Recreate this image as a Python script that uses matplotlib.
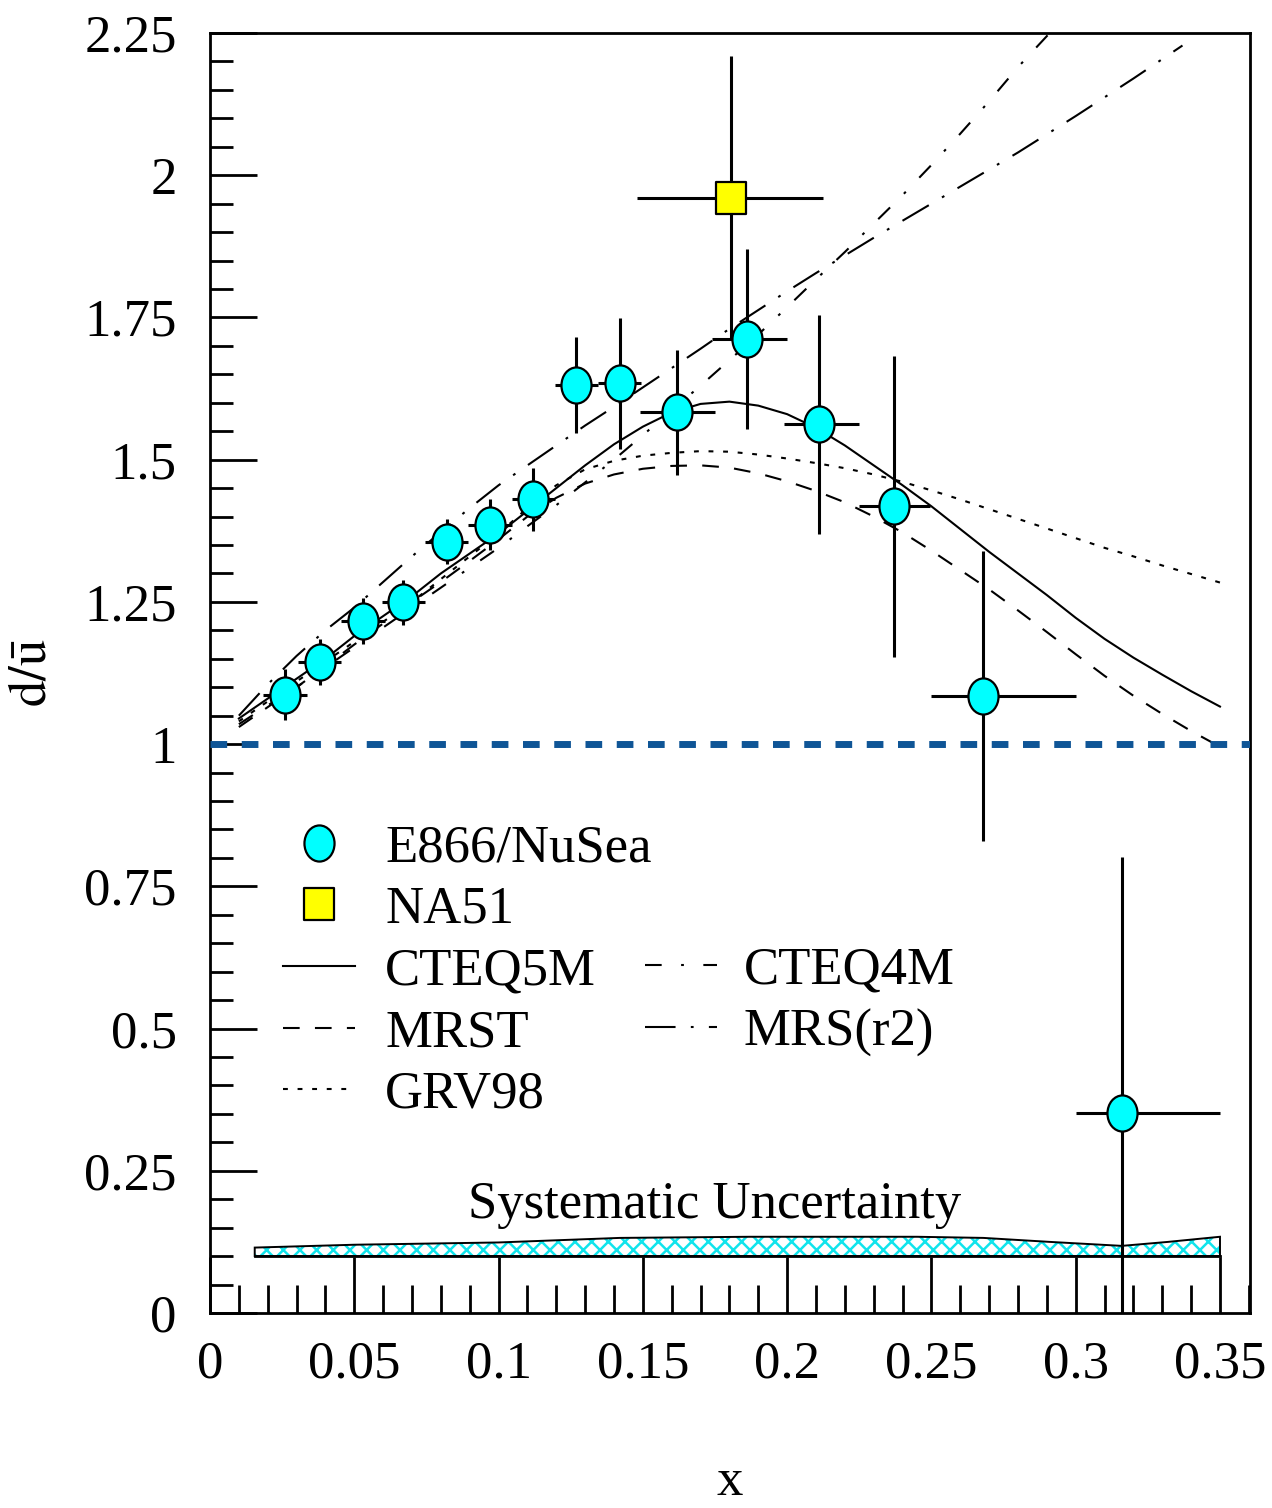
import numpy as np
import matplotlib
matplotlib.use('Agg')
import matplotlib.pyplot as plt
from matplotlib.path import Path
from matplotlib.ticker import MultipleLocator, FuncFormatter

plt.rcParams['font.family'] = ['Liberation Serif', 'DejaVu Serif']
plt.rcParams['mathtext.fontset'] = 'stix'
plt.rcParams['lines.scale_dashes'] = False
plt.rcParams['hatch.linewidth'] = 1.8

# E866/NuSea dbar/ubar points, x bins as low/high edges
x_e866 = [0.026, 0.038, 0.053, 0.067, 0.082, 0.097, 0.112, 0.127, 0.142,
          0.162, 0.186, 0.211, 0.237, 0.268, 0.316]
y_e866 = [1.087, 1.144, 1.216, 1.249, 1.356, 1.386, 1.430, 1.631, 1.634,
          1.583, 1.712, 1.562, 1.418, 1.084, 0.352]
yerr_e866 = [0.045, 0.04, 0.04, 0.04, 0.04, 0.045, 0.056, 0.085, 0.115,
             0.11, 0.158, 0.193, 0.265, 0.255, 0.45]
xlo_e866 = [0.0185, 0.0305, 0.0455, 0.0595, 0.0745, 0.0895, 0.1045, 0.1195, 0.1345,
            0.149, 0.174, 0.199, 0.225, 0.25, 0.30]
xhi_e866 = [0.0335, 0.0455, 0.0605, 0.0745, 0.0895, 0.1045, 0.1195, 0.1345, 0.1495,
            0.175, 0.20, 0.225, 0.2495, 0.30, 0.35]

# NA51
x_na51 = [0.1805]
y_na51 = [1.96]
yerr_na51 = [0.25]
xlo_na51 = [0.148]
xhi_na51 = [0.2125]

# parametrisations
x_c5 = [0.01, 0.02, 0.03, 0.04, 0.05, 0.06, 0.07, 0.08, 0.09, 0.10, 0.11, 0.12,
        0.13, 0.14, 0.15, 0.16, 0.17, 0.18, 0.19, 0.20, 0.21, 0.22, 0.23, 0.24,
        0.25, 0.26, 0.27, 0.28, 0.29, 0.30, 0.31, 0.32, 0.33, 0.34, 0.35]
y_c5 = [1.045, 1.08, 1.115, 1.15, 1.19, 1.225, 1.26, 1.30, 1.335, 1.37, 1.41, 1.45,
        1.49, 1.527, 1.558, 1.583, 1.598, 1.602, 1.595, 1.58, 1.556, 1.525, 1.49, 1.455,
        1.418, 1.378, 1.338, 1.30, 1.262, 1.222, 1.185, 1.152, 1.122, 1.093, 1.066]

x_mrst = [0.01, 0.02, 0.03, 0.04, 0.05, 0.06, 0.07, 0.08, 0.09, 0.10, 0.11, 0.12,
          0.13, 0.14, 0.15, 0.16, 0.17, 0.18, 0.19, 0.20, 0.21, 0.22, 0.23, 0.24,
          0.25, 0.26, 0.27, 0.28, 0.29, 0.30, 0.31, 0.32, 0.33, 0.34, 0.353]
y_mrst = [1.03, 1.065, 1.10, 1.137, 1.175, 1.212, 1.25, 1.285, 1.322, 1.36, 1.40, 1.433,
          1.458, 1.474, 1.484, 1.489, 1.49, 1.486, 1.476, 1.462, 1.445, 1.425, 1.40, 1.372,
          1.34, 1.306, 1.272, 1.235, 1.197, 1.158, 1.12, 1.085, 1.053, 1.023, 0.987]

x_grv = [0.01, 0.02, 0.03, 0.04, 0.05, 0.06, 0.07, 0.08, 0.09, 0.10, 0.11, 0.12,
         0.13, 0.14, 0.15, 0.16, 0.17, 0.18, 0.19, 0.20, 0.21, 0.22, 0.23, 0.24,
         0.25, 0.26, 0.27, 0.28, 0.29, 0.30, 0.31, 0.32, 0.33, 0.34, 0.35]
y_grv = [1.04, 1.075, 1.11, 1.145, 1.18, 1.215, 1.25, 1.29, 1.33, 1.37, 1.415, 1.455,
         1.483, 1.498, 1.507, 1.512, 1.515, 1.514, 1.509, 1.502, 1.494, 1.485, 1.474, 1.461,
         1.446, 1.43, 1.413, 1.396, 1.379, 1.362, 1.345, 1.33, 1.314, 1.299, 1.284]

x_c4 = [0.01, 0.02, 0.03, 0.04, 0.05, 0.06, 0.07, 0.08, 0.09, 0.10, 0.11, 0.12,
        0.13, 0.14, 0.15, 0.16, 0.17, 0.18, 0.19, 0.20, 0.21, 0.22, 0.23, 0.24,
        0.25, 0.26, 0.27, 0.28, 0.291]
y_c4 = [1.035, 1.068, 1.10, 1.135, 1.17, 1.205, 1.24, 1.275, 1.31, 1.345, 1.383, 1.42,
        1.46, 1.50, 1.543, 1.587, 1.63, 1.675, 1.72, 1.768, 1.817, 1.865, 1.915, 1.965,
        2.018, 2.073, 2.13, 2.19, 2.25]

x_mrs = [0.01, 0.02, 0.03, 0.04, 0.05, 0.06, 0.07, 0.08, 0.09, 0.10, 0.11, 0.12,
         0.13, 0.14, 0.15, 0.16, 0.17, 0.18, 0.19, 0.20, 0.21, 0.22, 0.23, 0.24,
         0.25, 0.26, 0.27, 0.28, 0.29, 0.30, 0.31, 0.32, 0.337]
y_mrs = [1.05, 1.105, 1.155, 1.20, 1.24, 1.285, 1.33, 1.373, 1.415, 1.455, 1.49, 1.525,
         1.56, 1.593, 1.627, 1.661, 1.695, 1.73, 1.763, 1.796, 1.828, 1.859, 1.89, 1.92,
         1.95, 1.98, 2.01, 2.04, 2.072, 2.104, 2.137, 2.17, 2.228]

# systematic uncertainty band
x_sys = [0.0155, 0.05, 0.10, 0.142, 0.187, 0.245, 0.268, 0.291, 0.316, 0.332, 0.35]
top_sys = [0.115, 0.12, 0.124, 0.132, 0.134, 0.134, 0.132, 0.125, 0.118, 0.125, 0.134]
base_sys = [0.10] * len(x_sys)

xerr_e866 = [np.subtract(x_e866, xlo_e866), np.subtract(xhi_e866, x_e866)]
xerr_na51 = [np.subtract(x_na51, xlo_na51), np.subtract(xhi_na51, x_na51)]

oval = Path(Path.unit_circle().vertices * [1.0, 1.2], Path.unit_circle().codes)
box = Path([(-1, -1.07), (1, -1.07), (1, 1.07), (-1, 1.07), (-1, -1.07)],
           [Path.MOVETO, Path.LINETO, Path.LINETO, Path.LINETO, Path.CLOSEPOLY])

fig = plt.figure(figsize=(12.72, 15.08), dpi=100)
ax = fig.add_axes([210 / 1272, 195 / 1508, 1040 / 1272, 1280 / 1508])

lw_curve = 1.5
l_c5, = ax.plot(x_c5, y_c5, color='k', lw=lw_curve, zorder=2)
l_mrst, = ax.plot(x_mrst, y_mrst, color='k', lw=lw_curve, ls=(0, (12, 11)), zorder=2)
l_grv, = ax.plot(x_grv, y_grv, color='k', lw=lw_curve, ls=(0, (3.5, 7)), zorder=2)
l_c4, = ax.plot(x_c4, y_c4, color='k', lw=lw_curve, ls=(0, (12, 14, 2, 14)), zorder=2)
l_mrs, = ax.plot(x_mrs, y_mrs, color='k', lw=lw_curve, ls=(0, (22, 11, 2, 11)), zorder=2)

ax.axhline(1.0, color='#0F5596', lw=5, ls=(0, (12, 10.5)), zorder=6)

ax.errorbar(x_na51, y_na51, yerr=yerr_na51, xerr=xerr_na51, fmt='none',
            ecolor='k', elinewidth=2.2, capsize=0, zorder=3)
h_na51, = ax.plot(x_na51, y_na51, ls='none', marker=box, ms=23, mfc='#FFFF00',
                  mec='k', mew=1.6, zorder=4)
ax.errorbar(x_e866, y_e866, yerr=yerr_e866, xerr=xerr_e866, fmt='none',
            ecolor='k', elinewidth=2.2, capsize=0, zorder=3)
h_e866, = ax.plot(x_e866, y_e866, ls='none', marker=oval, ms=26, mfc='#00FFFF',
                  mec='k', mew=1.6, zorder=5)

# hatched band
ax.fill_between(x_sys, base_sys, top_sys, facecolor='none', edgecolor='#10E4EC',
                lw=0, hatch='xx', zorder=2)
ax.fill(x_sys + x_sys[::-1], top_sys + base_sys[::-1], facecolor='none',
        edgecolor='k', lw=1.4, zorder=2)
ax.plot([x_sys[0], x_sys[-1]], [base_sys[0], base_sys[-1]], color='k', lw=2, zorder=2)
ax.text(0.175, 0.167, 'Systematic Uncertainty', ha='center', va='baseline', fontsize=38)

ax.set_xlim(0, 0.3604)
ax.set_ylim(0, 2.25)
ax.xaxis.set_major_locator(MultipleLocator(0.05))
ax.xaxis.set_minor_locator(MultipleLocator(0.01))
ax.yaxis.set_major_locator(MultipleLocator(0.25))
ax.yaxis.set_minor_locator(MultipleLocator(0.05))
fmt = FuncFormatter(lambda v, p: '%g' % round(v, 4))
ax.xaxis.set_major_formatter(fmt)
ax.yaxis.set_major_formatter(fmt)
ax.tick_params(which='both', direction='in', top=False, right=False, width=2,
               labelsize=38)
ax.tick_params(axis='x', which='major', length=40, pad=20)
ax.tick_params(axis='x', which='minor', length=20)
ax.tick_params(axis='y', which='major', length=34, pad=24)
ax.tick_params(axis='y', which='minor', length=16.5)
for s in ax.spines.values():
    s.set_linewidth(2)

ax.set_xlabel('x', fontsize=38)
ax.xaxis.set_label_coords(0.5, -0.113)
ax.set_ylabel(r'$\bar{\mathrm{d}}/\bar{\mathrm{u}}$', fontsize=38)
ax.yaxis.set_label_coords(-0.147, 0.50)

leg1 = ax.legend([h_e866, h_na51, l_c5, l_mrst, l_grv],
                 ['E866/NuSea', 'NA51', 'CTEQ5M', 'MRST', 'GRV98'],
                 loc='upper left', bbox_to_anchor=(0.070, 0.382), frameon=False,
                 fontsize=38, handlelength=1.37, handletextpad=0.57,
                 labelspacing=0.26, borderpad=0, borderaxespad=0)
ax.add_artist(leg1)
ax.legend([l_c4, l_mrs], ['CTEQ4M', 'MRS(r2)'],
          loc='upper left', bbox_to_anchor=(0.418, 0.286), frameon=False,
          fontsize=38, handlelength=1.37, handletextpad=0.5,
          labelspacing=0.26, borderpad=0, borderaxespad=0)

fig.savefig('out.png', dpi=100)
